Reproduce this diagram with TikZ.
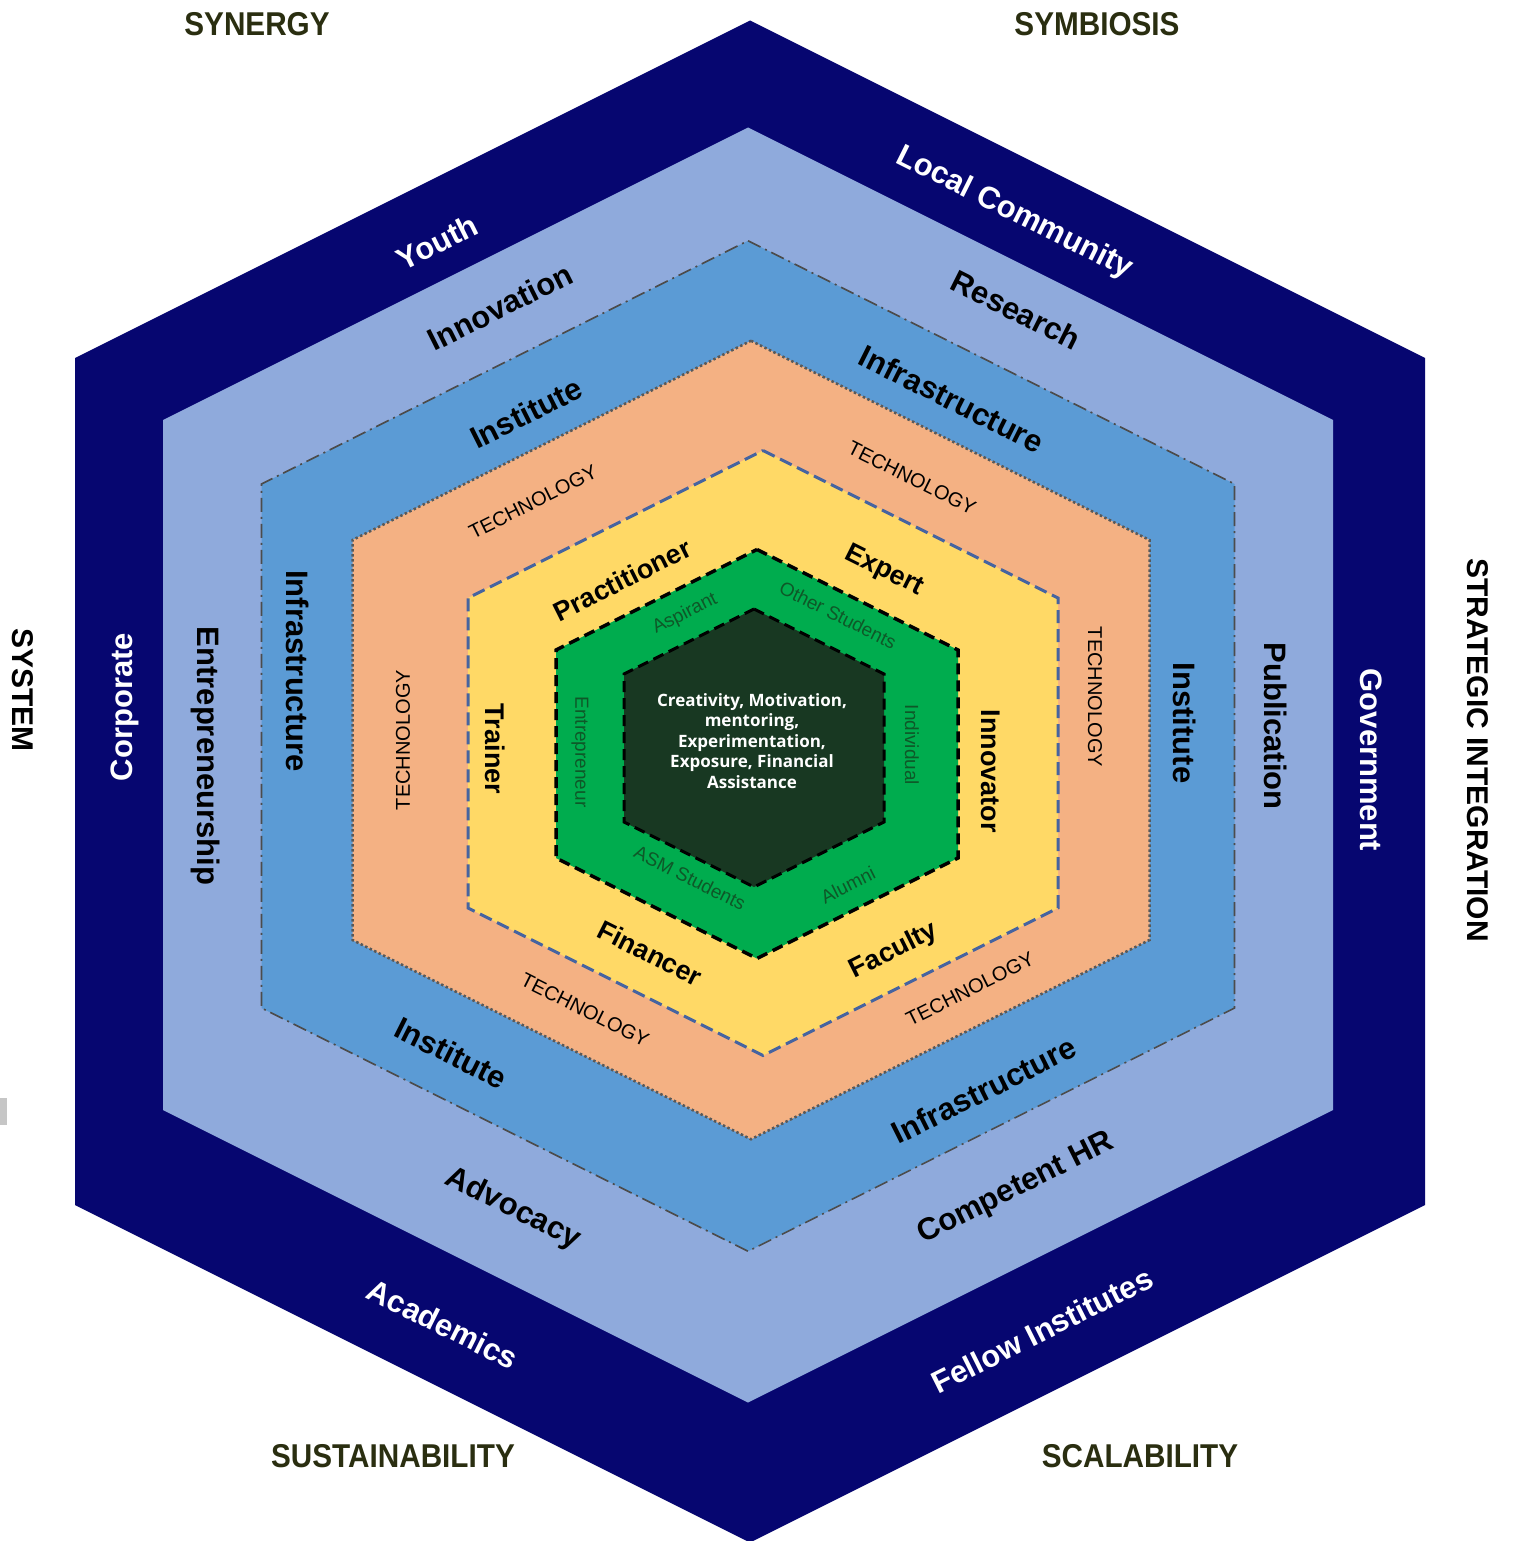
\documentclass[tikz,border=0pt]{standalone}
\usepackage{fontspec}
\setmainfont{Liberation Sans}
\newfontfamily\corefont{Open Sans}
\definecolor{hex-navy}{RGB}{6, 6, 112}
\definecolor{hex-sky}{RGB}{143, 170, 220}
\definecolor{hex-blue}{RGB}{91, 155, 213}
\definecolor{hex-peach}{RGB}{244, 177, 131}
\definecolor{hex-yellow}{RGB}{255, 217, 102}
\definecolor{hex-green}{RGB}{0, 172, 78}
\definecolor{hex-core}{RGB}{24, 56, 34}
\definecolor{hex-olive}{RGB}{42, 46, 16}
\definecolor{hex-leaf}{RGB}{14, 88, 40}
\definecolor{hex-slate}{RGB}{70, 100, 160}
% hexagon with centre (#1,#2), half width #3, half side #4
\newcommand{\hexpath}[4]{(#1,#2-#4-0.5*#3) -- (#1+#3,#2-#4) -- (#1+#3,#2+#4) -- (#1,#2+#4+0.5*#3) -- (#1-#3,#2+#4) -- (#1-#3,#2-#4) -- cycle}
\tikzset{
    outerlabel/.style={text=white, font=\bfseries\fontsize{31}{31}\selectfont, inner sep=0pt},
    ringlabel/.style={text=black, font=\bfseries\fontsize{31}{31}\selectfont, inner sep=0pt},
    techlabel/.style={text=black, font=\fontsize{20}{20}\selectfont, inner sep=0pt},
    rolelabel/.style={text=black, font=\bfseries\fontsize{27}{27}\selectfont, inner sep=0pt},
    studentlabel/.style={text=hex-leaf, font=\fontsize{19}{19}\selectfont, inner sep=0pt},
    cornerlabel/.style={text=hex-olive, font=\bfseries\fontsize{33}{33}\selectfont, xscale=0.9, inner sep=0pt},
    sidelabel/.style={text=black, font=\bfseries\fontsize{30}{30}\selectfont, inner sep=0pt}
}

\begin{document}
\begin{tikzpicture}[x=1pt, y=-1pt]
    \useasboundingbox (0, 0) rectangle (1512, 1541);
    \fill[white] (0, 0) rectangle (1512, 1541);
    \fill[gray!45] (0, 1098) rectangle (7, 1125);

    % layers, outside in
    \fill[hex-navy] \hexpath{750}{781.5}{675}{423.5};
    \fill[hex-sky] \hexpath{748}{765}{585}{345};
    \filldraw[fill=hex-blue, draw=black!70, dash pattern=on 14pt off 5pt on 2pt off 5pt, line width=1.6pt] \hexpath{748}{746}{486.5}{262};
    \filldraw[fill=hex-peach, draw=black!65, dash pattern=on 2.5pt off 2.5pt, line width=2.5pt] \hexpath{751}{740}{398.5}{200};
    \filldraw[fill=hex-yellow, draw=hex-slate, dash pattern=on 13pt off 6pt, line width=3pt] \hexpath{763}{753}{295}{155};
    \filldraw[fill=hex-green, draw=black, dash pattern=on 11pt off 6pt, line width=3.5pt] \hexpath{757}{754}{201}{104};
    \filldraw[fill=hex-core, draw=black, dash pattern=on 11pt off 6pt, line width=3pt] \hexpath{754}{748}{130}{74};

    % outer ring
    \node[outerlabel, rotate=26.57] (youth) at (437, 242) {Youth};
    \node[outerlabel, rotate=-26.57] (localcomm) at (1014, 213) {Local Community};
    \node[outerlabel, rotate=90] (corporate) at (125, 707) {Corporate};
    \node[outerlabel, rotate=-90] (government) at (1371, 760) {Government};
    \node[outerlabel, rotate=-26.57] (academics) at (443, 1324) {Academics};
    \node[outerlabel, rotate=26.57] (fellow) at (1042, 1330) {Fellow Institutes};

    % second ring
    \node[ringlabel, rotate=26.57] (innovation) at (500, 307) {Innovation};
    \node[ringlabel, rotate=-26.57] (research) at (1016, 310) {Research};
    \node[ringlabel, rotate=-90] (entrepreneurship) at (206, 756) {Entrepreneurship};
    \node[ringlabel, rotate=-90] (publication) at (1276, 726) {Publication};
    \node[ringlabel, rotate=-26.57] (advocacy) at (513, 1209) {Advocacy};
    \node[ringlabel, rotate=26.57] (competent) at (1016, 1189) {Competent HR};

    % third ring
    \node[ringlabel, rotate=26.57] (institute-a) at (526, 413) {Institute};
    \node[ringlabel, rotate=-26.57] (infra-a) at (952, 399) {Infrastructure};
    \node[ringlabel, rotate=-90] (infra-b) at (298, 671) {Infrastructure};
    \node[ringlabel, rotate=-90] (institute-b) at (1185, 723) {Institute};
    \node[ringlabel, rotate=-26.57] (institute-c) at (451, 1053) {Institute};
    \node[ringlabel, rotate=26.57] (infra-c) at (984, 1090) {Infrastructure};

    % technology ring
    \node[techlabel, rotate=26.57] (tech-a) at (533, 502) {TECHNOLOGY};
    \node[techlabel, rotate=-26.57] (tech-b) at (912, 478) {TECHNOLOGY};
    \node[techlabel, rotate=90] (tech-c) at (403, 740) {TECHNOLOGY};
    \node[techlabel, rotate=-90] (tech-d) at (1095, 697) {TECHNOLOGY};
    \node[techlabel, rotate=-26.57] (tech-e) at (585, 1010) {TECHNOLOGY};
    \node[techlabel, rotate=26.57] (tech-f) at (970, 989) {TECHNOLOGY};

    % roles
    \node[rolelabel, rotate=26.57] (practitioner) at (622, 580) {Practitioner};
    \node[rolelabel, rotate=-26.57] (expert) at (884, 571) {Expert};
    \node[rolelabel, rotate=-90] (trainer) at (495, 749) {Trainer};
    \node[rolelabel, rotate=-90] (innovator) at (991, 771) {Innovator};
    \node[rolelabel, rotate=-26.57] (financer) at (650, 953) {Financer};
    \node[rolelabel, rotate=26.57] (faculty) at (894, 951) {Faculty};

    % students
    \node[studentlabel, rotate=26.57] (aspirant) at (685, 614) {Aspirant};
    \node[studentlabel, rotate=-26.57] (other) at (838, 615) {Other Students};
    \node[studentlabel, rotate=-90] (entrepreneur) at (580, 752) {Entrepreneur};
    \node[studentlabel, rotate=-90] (individual) at (912, 745) {Individual};
    \node[studentlabel, rotate=-26.57] (asm) at (690, 878) {ASM Students};
    \node[studentlabel, rotate=26.57] (alumni) at (848, 885) {Alumni};

    % core
    \node[text=white, font=\corefont\bfseries\fontsize{17}{20.5}\selectfont, align=center, inner sep=0pt] (core) at (752, 741)
        {Creativity, Motivation,\\mentoring,\\Experimentation,\\Exposure, Financial\\Assistance};

    % outside
    \node[cornerlabel] (synergy) at (257, 24) {SYNERGY};
    \node[cornerlabel] (symbiosis) at (1097, 24) {SYMBIOSIS};
    \node[cornerlabel] (sustainability) at (393, 1456) {SUSTAINABILITY};
    \node[cornerlabel] (scalability) at (1140, 1456) {SCALABILITY};
    \node[sidelabel, rotate=-90] (system) at (23, 690) {SYSTEM};
    \node[sidelabel, rotate=-90] (strategic) at (1478, 750) {STRATEGIC INTEGRATION};
\end{tikzpicture}
\end{document}
